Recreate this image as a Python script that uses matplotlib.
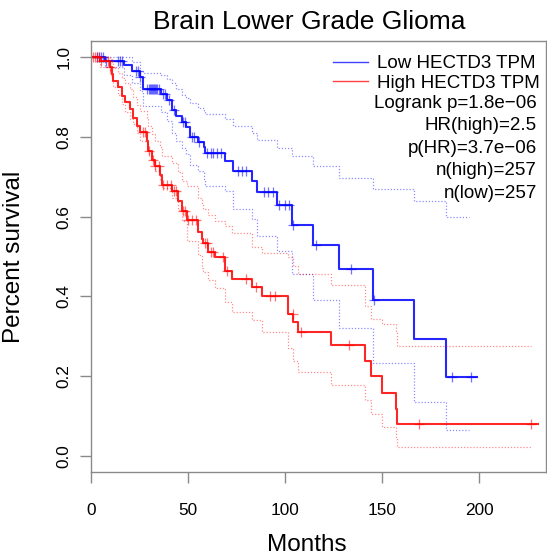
import numpy as np
import matplotlib
matplotlib.use('Agg')
import matplotlib.pyplot as plt

plt.rcParams['font.family'] = ['Liberation Sans', 'DejaVu Sans']

# Low HECTD3 TPM group (blue): step times (months) and survival after each step
times_low = [0, 7, 17, 21, 25, 27, 36, 39, 42, 44, 47, 49, 51, 55, 58, 59, 69, 73.4,
             82.8, 85.4, 95.7, 103.4, 114.6, 128, 145.5, 166.5, 183]
surv_low = [1.0, 0.99, 0.979, 0.966, 0.95, 0.92, 0.908, 0.893, 0.868, 0.851, 0.838, 0.825,
            0.8, 0.788, 0.775, 0.76, 0.74, 0.714, 0.688, 0.661, 0.628, 0.58, 0.53, 0.469,
            0.392, 0.293, 0.197]
upper_low = [1.0, 1.0, 1.0, 0.987, 0.966, 0.96, 0.955, 0.945, 0.935, 0.92, 0.905, 0.898,
             0.884, 0.872, 0.864, 0.858, 0.845, 0.827, 0.81, 0.793, 0.772, 0.751, 0.726,
             0.697, 0.668, 0.638, 0.598]
lower_low = [1.0, 0.975, 0.955, 0.935, 0.915, 0.878, 0.862, 0.84, 0.81, 0.79, 0.772, 0.756,
             0.73, 0.715, 0.695, 0.676, 0.664, 0.618, 0.593, 0.551, 0.513, 0.455, 0.39,
             0.32, 0.232, 0.135, 0.064]
end_low, end_low_ci = 199, 195
censor_low = [3, 4, 5, 6, 7.5, 14, 15, 16, 23, 24, 25, 29, 30, 30.5, 31, 31.5, 32, 32.5, 33,
              33.5, 34, 35, 37, 38, 40, 43, 47.5, 48.5, 52, 53, 55.5, 60, 62, 63, 65, 67,
              76, 78, 80, 89, 91, 94, 97, 100, 102, 104, 116, 134, 146, 186, 196]

# High HECTD3 TPM group (red)
times_high = [0, 4.6, 9.8, 10.7, 11.5, 14.1, 15.8, 17.5, 20.1, 21.8, 23.5, 25.3, 28.7, 29.5,
              31.3, 33, 35.6, 36.4, 41.6, 45, 46.7, 49.3, 55.3, 57, 57.9, 60.5, 63.9, 69,
              72.5, 82.8, 88, 101.7, 104.3, 106.9, 123.5, 141.2, 144.2, 149.8, 157.2, 157.9]
surv_high = [1.0, 0.99, 0.975, 0.958, 0.941, 0.924, 0.903, 0.886, 0.87, 0.848, 0.827, 0.811,
             0.79, 0.764, 0.743, 0.727, 0.705, 0.68, 0.663, 0.638, 0.613, 0.592, 0.562,
             0.545, 0.533, 0.512, 0.499, 0.463, 0.444, 0.423, 0.402, 0.356, 0.335, 0.31,
             0.278, 0.238, 0.2, 0.158, 0.118, 0.08]
upper_high = [1.0, 1.0, 0.995, 0.985, 0.972, 0.96, 0.948, 0.935, 0.92, 0.9, 0.88, 0.865,
              0.848, 0.827, 0.806, 0.79, 0.775, 0.752, 0.735, 0.712, 0.69, 0.676, 0.646,
              0.63, 0.62, 0.604, 0.59, 0.576, 0.56, 0.523, 0.51, 0.5, 0.476, 0.455, 0.429,
              0.377, 0.343, 0.33, 0.31, 0.276]
lower_high = [1.0, 0.975, 0.955, 0.94, 0.925, 0.905, 0.882, 0.861, 0.845, 0.832, 0.81, 0.79,
              0.781, 0.76, 0.739, 0.714, 0.69, 0.672, 0.646, 0.617, 0.588, 0.54, 0.505,
              0.47, 0.46, 0.44, 0.42, 0.385, 0.36, 0.34, 0.31, 0.27, 0.238, 0.21, 0.179,
              0.14, 0.106, 0.072, 0.045, 0.022]
end_high, end_high_ci = 230.5, 227
censor_high = [1, 2, 3, 4, 5, 9, 10, 27, 28, 30, 32, 33, 35, 37, 39, 41, 43, 44, 47.5, 48.5,
               50, 52, 54, 59, 60, 62, 63, 68, 70, 80, 85, 92, 95, 104, 108, 133, 169, 227]

stats = ['Logrank p=1.8e\u221206', 'HR(high)=2.5', 'p(HR)=3.7e\u221206',
         'n(high)=257', 'n(low)=257']

W, H = 547, 556
fig = plt.figure(figsize=(W / 100, H / 100), dpi=100)
ax = fig.add_axes([91 / W, 1 - 472 / H, 455 / W, 431 / H])

grey = '#8a8a8a'


def draw_group(times, surv, upper, lower, end, end_ci, censor, color, label):
    t = np.append(times, end)
    tc = np.append(times, end_ci)
    ax.step(tc, np.append(upper, upper[-1]), where='post', color=color, lw=0.9,
            ls=(0, (1, 1.5)), alpha=0.45)
    ax.step(tc, np.append(lower, lower[-1]), where='post', color=color, lw=0.9,
            ls=(0, (1, 1.5)), alpha=0.45)
    ax.step(t, np.append(surv, surv[-1]), where='post', color=color, lw=1.5, alpha=0.85)
    idx = np.searchsorted(times, censor, side='right') - 1
    ax.plot(censor, np.asarray(surv)[idx], ls='none', marker='+', ms=7, mew=0.9,
            color=color, alpha=0.55)
    return plt.Line2D([], [], color=color, lw=1.0, alpha=0.75, label=label)


h_low = draw_group(times_low, surv_low, upper_low, lower_low, end_low, end_low_ci,
                   censor_low, '#0000ff', 'Low HECTD3 TPM')
h_high = draw_group(times_high, surv_high, upper_high, lower_high, end_high, end_high_ci,
                    censor_high, '#ff0000', 'High HECTD3 TPM')

ax.set_xlim(0, 234.5)
ax.set_ylim(-0.04, 1.04)
ax.set_xticks([0, 50, 100, 150, 200])
ax.set_yticks([0.0, 0.2, 0.4, 0.6, 0.8, 1.0])
ax.set_yticklabels(['0.0', '0.2', '0.4', '0.6', '0.8', '1.0'], rotation=90, va='center')
ax.tick_params(axis='both', length=8, width=1.0, color=grey, labelsize=12.4)
ax.tick_params(axis='x', pad=14)
ax.tick_params(axis='y', pad=6)
for s in ax.spines.values():
    s.set_color(grey)
    s.set_linewidth(1.0)

ax.set_xlabel('Months', fontsize=17.5)
ax.xaxis.set_label_coords((307 - 91) / 455, -0.145)
ax.set_ylabel('Percent survival', fontsize=17.5)
ax.yaxis.set_label_coords(-0.145, 0.5)

fig.text(309 / W, 1 - 22 / H, 'Brain Lower Grade Glioma', ha='center', va='center',
         fontsize=19)

ax.legend(handles=[h_low, h_high], loc='upper left',
          bbox_to_anchor=(332.7 / W, 1 - 55 / H), bbox_transform=fig.transFigure,
          frameon=False, fontsize=13.5, borderpad=0, borderaxespad=0, handlelength=1.9,
          handletextpad=0.45, labelspacing=0.12)

for i, s in enumerate(stats):
    fig.text(537 / W, 1 - (103.3 + 22.5 * i) / H, s, ha='right', va='center',
             fontsize=13.5)

fig.savefig('out.png', dpi=100)
